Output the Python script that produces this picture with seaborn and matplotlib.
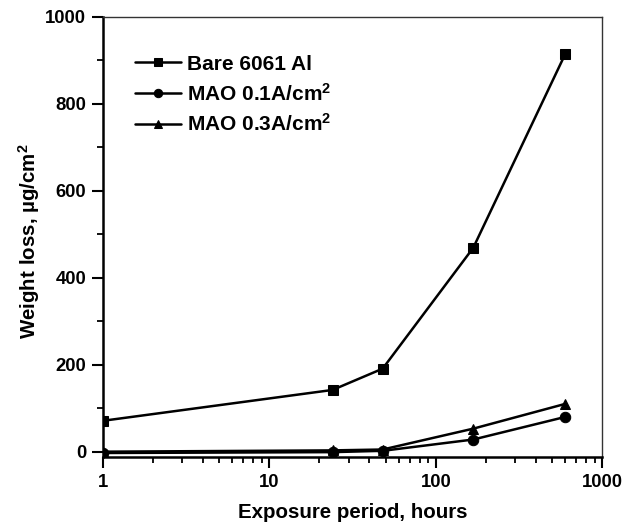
import matplotlib
matplotlib.use("Agg")
import matplotlib.pyplot as plt
from matplotlib.ticker import MultipleLocator, NullFormatter, LogLocator
import seaborn as sns
import pandas as pd

hours = [1, 24, 48, 168, 600]
bare = [71, 142, 191, 469, 915]
mao01 = [-3, -1, 2, 28, 80]
mao03 = [0, 3, 5, 53, 110]
series_names = ["Bare 6061 Al", "MAO 0.1A/cm$^2$", "MAO 0.3A/cm$^2$"]

rows = []
for name, vals in zip(series_names, [bare, mao01, mao03]):
    for h, v in zip(hours, vals):
        rows.append({"hours": h, "loss": v, "series": name})
df = pd.DataFrame(rows)

sns.set_style("ticks")
plt.rcParams["font.family"] = ["Liberation Sans", "DejaVu Sans"]
plt.rcParams["font.weight"] = "bold"
plt.rcParams["text.color"] = "black"
plt.rcParams["axes.labelcolor"] = "black"
plt.rcParams["xtick.color"] = "black"
plt.rcParams["ytick.color"] = "black"
plt.rcParams["mathtext.fontset"] = "custom"
plt.rcParams["mathtext.rm"] = "Liberation Sans:bold"
plt.rcParams["mathtext.it"] = "Liberation Sans:bold"
plt.rcParams["mathtext.bf"] = "Liberation Sans:bold"
plt.rcParams["mathtext.default"] = "rm"

fig = plt.figure(figsize=(6.38, 5.27), dpi=100)
ax = fig.add_axes([0.161, 0.133, 0.783, 0.835])

sns.lineplot(data=df, x="hours", y="loss", hue="series", style="series",
             markers=["s", "o", "^"], dashes=False,
             palette=["black"] * 3, linewidth=1.8, markersize=7.5,
             markeredgecolor="black", ax=ax)

ax.set_xscale("log")
ax.set_xlim(1, 1000)
ax.set_ylim(-12, 1000)
ax.set_xticks([1, 10, 100, 1000])
ax.set_xticklabels(["1", "10", "100", "1000"])
ax.xaxis.set_minor_locator(LogLocator(base=10, subs=range(2, 10)))
ax.xaxis.set_minor_formatter(NullFormatter())
ax.yaxis.set_major_locator(MultipleLocator(200))
ax.yaxis.set_minor_locator(MultipleLocator(100))

ax.set_xlabel("Exposure period, hours", fontsize=14.8, fontweight="bold",
              labelpad=9, color="black")
ax.set_ylabel("Weight loss, µg/cm$^2$", fontsize=14.8, fontweight="bold",
              labelpad=9, color="black")
ax.yaxis.set_label_coords(-0.122, 0.49)

for lbl in ax.get_xticklabels() + ax.get_yticklabels():
    lbl.set_fontweight("bold")
    lbl.set_color("black")
ax.tick_params(axis="both", which="major", labelsize=13.3, width=1.5, color="black",
               labelcolor="black", direction="out", length=8, pad=4)
ax.tick_params(axis="both", which="minor", direction="out", length=4.5, width=1.3,
               color="black")

for side in ["left", "bottom"]:
    ax.spines[side].set_linewidth(1.8)
    ax.spines[side].set_color("black")
for side in ["top", "right"]:
    ax.spines[side].set_visible(True)
    ax.spines[side].set_linewidth(1.0)
    ax.spines[side].set_color("#333333")

leg = ax.legend(loc="upper left", bbox_to_anchor=(0.064, 0.914), frameon=False,
                prop={"weight": "bold", "size": 15}, handlelength=2.2,
                handletextpad=0.3, labelspacing=0.42, borderaxespad=0,
                borderpad=0)
for h in leg.legend_handles:
    h.set_markersize(6)
for t in leg.get_texts():
    t.set_color("black")

fig.savefig("out.png", dpi=100)
